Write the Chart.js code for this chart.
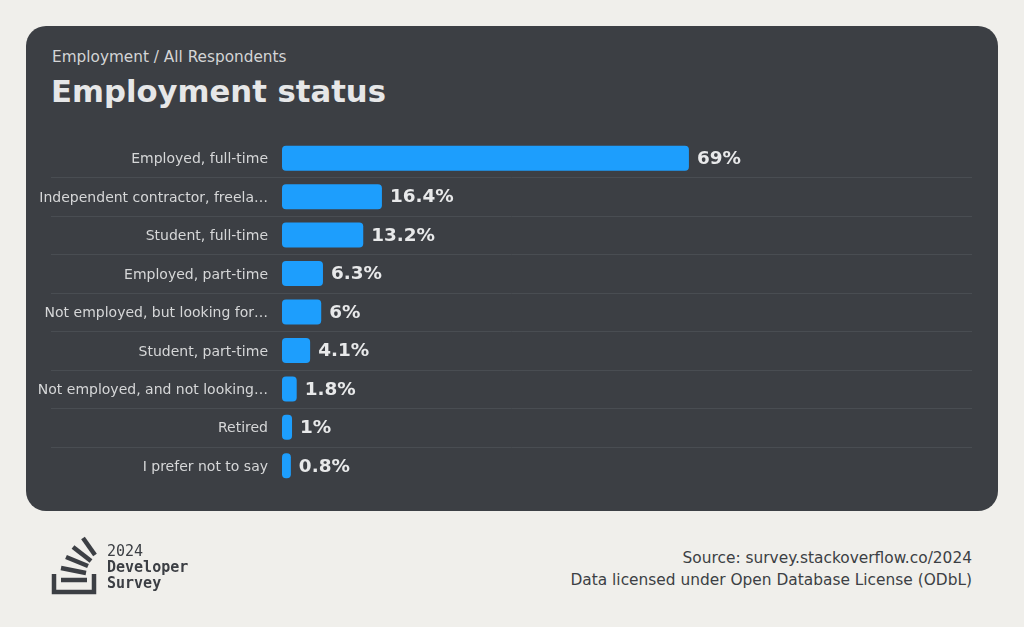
<!DOCTYPE html>
<html>
<head>
<meta charset="utf-8">
<script src="https://cdn.jsdelivr.net/npm/chart.js@4"></script>
<style>
  html, body { margin: 0; padding: 0; }
  body { width: 1024px; height: 627px; background: #f0efeb; position: relative; overflow: hidden; font-family: "DejaVu Sans", sans-serif; }
  .card { position: absolute; left: 26px; top: 26px; width: 972px; height: 485px; background: #3c3f44; border-radius: 20px; }
  .sub { position: absolute; left: 52px; top: 48px; font-size: 15.3px; color: #d4d5d6; white-space: nowrap; }
  .title { position: absolute; left: 51px; top: 74px; font-size: 30.7px; font-weight: bold; color: #e6e7e8; white-space: nowrap; }
  .wrap { position: absolute; left: 26px; top: 130px; width: 972px; height: 370px; }
  .brand { position: absolute; left: 107px; top: 543px; font-family: "DejaVu Sans Mono", monospace; font-size: 15px; line-height: 16px; color: #3c3f44; }
  .brand b { font-weight: bold; }
  .source { position: absolute; right: 52px; top: 547px; font-size: 15.4px; line-height: 22px; color: #3c3f44; text-align: right; white-space: nowrap; }
</style>
</head>
<body>
<div class="card"></div>
<div class="sub">Employment / All Respondents</div>
<div class="title">Employment status</div>
<div class="wrap"><canvas id="grafico"></canvas></div>

<svg style="position:absolute;left:0;top:0" width="120" height="627">
  <g stroke="#3c3f44" fill="none">
    <polyline points="54,574 54,592 94,592 94,574" stroke-width="4.5"/>
    <line x1="61" y1="580" x2="87" y2="580" stroke-width="4.5"/>
    <line x1="61" y1="568" x2="86" y2="573" stroke-width="4.5"/>
    <line x1="66" y1="557" x2="88" y2="566" stroke-width="4.5"/>
    <line x1="73" y1="547" x2="91" y2="561" stroke-width="4.5"/>
    <line x1="83" y1="538" x2="95" y2="555" stroke-width="4.5"/>
  </g>
</svg>
<div class="brand">2024<br><b>Developer</b><br><b>Survey</b></div>
<div class="source">Source: survey.stackoverflow.co/2024<br>Data licensed under Open Database License (ODbL)</div>

<script>
// datos del grafico
let categorias = [
  "Employed, full-time",
  "Independent contractor, freela\u2026",
  "Student, full-time",
  "Employed, part-time",
  "Not employed, but looking for\u2026",
  "Student, part-time",
  "Not employed, and not looking\u2026",
  "Retired",
  "I prefer not to say"
];
let porcentajes = [69, 16.4, 13.2, 6.3, 6, 4.1, 1.8, 1, 0.8];

// lineas separadoras entre filas
const separadores = {
  id: "separadores",
  beforeDatasetsDraw(chart) {
    const ctx = chart.ctx;
    const y = chart.scales.y;
    ctx.save();
    ctx.strokeStyle = "#494d52";
    ctx.lineWidth = 1;
    for (let i = 1; i < categorias.length; i++) {
      const py = Math.round((y.getPixelForValue(i - 1) + y.getPixelForValue(i)) / 2) + 0.5;
      ctx.beginPath();
      ctx.moveTo(25, py);
      ctx.lineTo(chart.chartArea.right, py);
      ctx.stroke();
    }
    ctx.restore();
  }
};

// etiquetas de valor al final de cada barra
const etiquetas = {
  id: "etiquetas",
  afterDatasetsDraw(chart) {
    const ctx = chart.ctx;
    const meta = chart.getDatasetMeta(0);
    ctx.save();
    ctx.font = "bold 18.4px 'DejaVu Sans'";
    ctx.fillStyle = "#e8e9ea";
    ctx.textBaseline = "middle";
    ctx.textAlign = "left";
    meta.data.forEach(function (bar, i) {
      ctx.fillText(porcentajes[i] + "%", bar.x + 8, bar.y + 1);
    });
    ctx.restore();
  }
};

new Chart("grafico", {
  type: "bar",
  data: {
    labels: categorias,
    datasets: [{
      data: porcentajes,
      base: -0.72,
      backgroundColor: "#1d9efd",
      borderRadius: 4,
      borderSkipped: false,
      barPercentage: 0.65,
      categoryPercentage: 1
    }]
  },
  options: {
    indexAxis: "y",
    responsive: true,
    maintainAspectRatio: false,
    animation: false,
    layout: { padding: { left: 0, right: 26, top: 9, bottom: 15 } },
    plugins: {
      legend: { display: false },
      tooltip: { enabled: false },
      title: { display: false }
    },
    scales: {
      x: { display: false, min: -0.72, max: 117.5 },
      y: {
        grid: { display: false, drawTicks: false },
        border: { display: false },
        ticks: {
          color: "#d6d7d8",
          padding: 14,
          labelOffset: 1.5,
          font: { family: "DejaVu Sans", size: 14 }
        },
        afterFit: function (scale) {
          scale.width = 256;
          scale.paddingTop = 0;
          scale.paddingBottom = 0;
        }
      }
    }
  },
  plugins: [separadores, etiquetas]
});
</script>
</body>
</html>
